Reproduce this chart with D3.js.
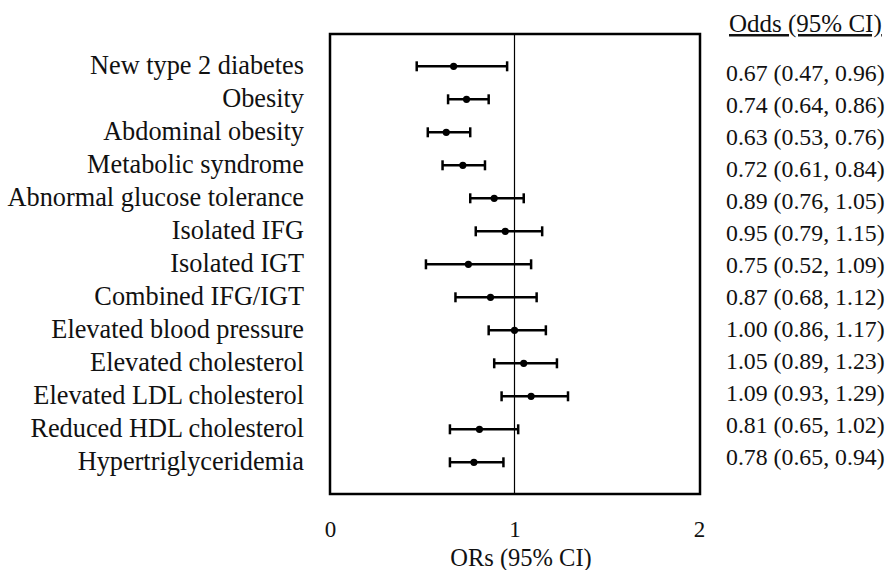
<!DOCTYPE html>
<html lang='en'>
<head>
	<meta charset='UTF-8'/>
	<title>Forest plot: ORs (95% CI)</title>
	<script src='https://cdnjs.cloudflare.com/ajax/libs/d3/7.8.5/d3.min.js'></script>
	<style>
		body {margin: 0; background: #fff;}
		text {font-family: 'Liberation Serif', 'Times New Roman', serif; fill: #111;}
	</style>
</head>
<body>
	<div class='graph'></div>
	<script>
		// outcomes, top to bottom
		const outcomes = ['New type 2 diabetes', 'Obesity', 'Abdominal obesity', 'Metabolic syndrome',
			'Abnormal glucose tolerance', 'Isolated IFG', 'Isolated IGT', 'Combined IFG/IGT',
			'Elevated blood pressure', 'Elevated cholesterol', 'Elevated LDL cholesterol',
			'Reduced HDL cholesterol', 'Hypertriglyceridemia'];
		const odds = [0.67, 0.74, 0.63, 0.72, 0.89, 0.95, 0.75, 0.87, 1.00, 1.05, 1.09, 0.81, 0.78];
		const ciLow = [0.47, 0.64, 0.53, 0.61, 0.76, 0.79, 0.52, 0.68, 0.86, 0.89, 0.93, 0.65, 0.65];
		const ciHigh = [0.96, 0.86, 0.76, 0.84, 1.05, 1.15, 1.09, 1.12, 1.17, 1.23, 1.29, 1.02, 0.94];
		const xTicks = [0, 1, 2];

		const width = 888, height = 570;
		const box = {left: 330, right: 700, top: 34, bottom: 494};

		const svg = d3.select('.graph')
			.append('svg')
			.attr('width', width)
			.attr('height', height);

		const x = d3.scaleLinear().domain([0, 2]).range([330, 699]);
		const y = d3.scalePoint().domain(outcomes).range([66.3, 462.3]);
		// the odds column sits a bit lower with tighter spacing
		const yText = d3.scalePoint().domain(outcomes).range([81, 465]);

		// frame
		svg.append('rect')
			.attr('x', box.left)
			.attr('y', box.top)
			.attr('width', box.right - box.left)
			.attr('height', box.bottom - box.top)
			.style('fill', 'none')
			.style('stroke', '#000')
			.style('stroke-width', 2.5);

		// line of no effect
		svg.append('line')
			.attr('x1', x(1)).attr('x2', x(1))
			.attr('y1', box.top).attr('y2', box.bottom)
			.style('stroke', '#000')
			.style('stroke-width', 1.2);

		// x axis, labels only
		const xAxis = svg.append('g')
			.attr('transform', 'translate(0,' + 537 + ')')
			.call(d3.axisBottom(x).tickValues(xTicks).tickFormat(d3.format('d')).tickSize(0).tickPadding(0));
		xAxis.select('.domain').remove();
		xAxis.selectAll('text')
			.attr('dy', 0)
			.attr('y', 0)
			.style('font-size', '23px')
			.style('font-family', "'Liberation Serif', serif")
			.style('fill', '#111');

		svg.append('text')
			.text('ORs (95% CI)')
			.attr('x', 521)
			.attr('y', 566)
			.attr('text-anchor', 'middle')
			.style('font-size', '24.5px');

		const rows = outcomes.map((d, i) => ({name: d, or: odds[i], lo: ciLow[i], hi: ciHigh[i]}));

		// error bars
		const g = svg.append('g');
		g.selectAll('line.ci')
			.data(rows)
			.enter()
			.append('line')
			.attr('class', 'ci')
			.attr('x1', d => x(d.lo)).attr('x2', d => x(d.hi))
			.attr('y1', d => y(d.name)).attr('y2', d => y(d.name))
			.style('stroke', '#000')
			.style('stroke-width', 2.5);
		['lo', 'hi'].forEach(k => {
			g.selectAll('line.cap-' + k)
				.data(rows)
				.enter()
				.append('line')
				.attr('class', 'cap-' + k)
				.attr('x1', d => x(d[k])).attr('x2', d => x(d[k]))
				.attr('y1', d => y(d.name) - 5).attr('y2', d => y(d.name) + 5)
				.style('stroke', '#000')
				.style('stroke-width', 2.5);
		});
		g.selectAll('circle')
			.data(rows)
			.enter()
			.append('circle')
			.attr('cx', d => x(d.or))
			.attr('cy', d => y(d.name))
			.attr('r', 3.6)
			.style('fill', '#000');

		// outcome names
		svg.selectAll('text.label')
			.data(rows)
			.enter()
			.append('text')
			.attr('class', 'label')
			.attr('x', 304)
			.attr('y', d => y(d.name) + 8)
			.attr('text-anchor', 'end')
			.style('font-size', '26.3px')
			.text(d => d.name);

		// odds column
		svg.append('text')
			.text('Odds (95% CI)')
			.attr('x', 729)
			.attr('y', 32)
			.style('font-size', '25px')
			.style('text-decoration', 'underline');

		svg.selectAll('text.odds')
			.data(rows)
			.enter()
			.append('text')
			.attr('class', 'odds')
			.attr('x', 726)
			.attr('y', d => yText(d.name))
			.style('font-size', '23.8px')
			.text(d => d.or.toFixed(2) + ' (' + d.lo.toFixed(2) + ', ' + d.hi.toFixed(2) + ')');
	</script>
</body>
</html>
